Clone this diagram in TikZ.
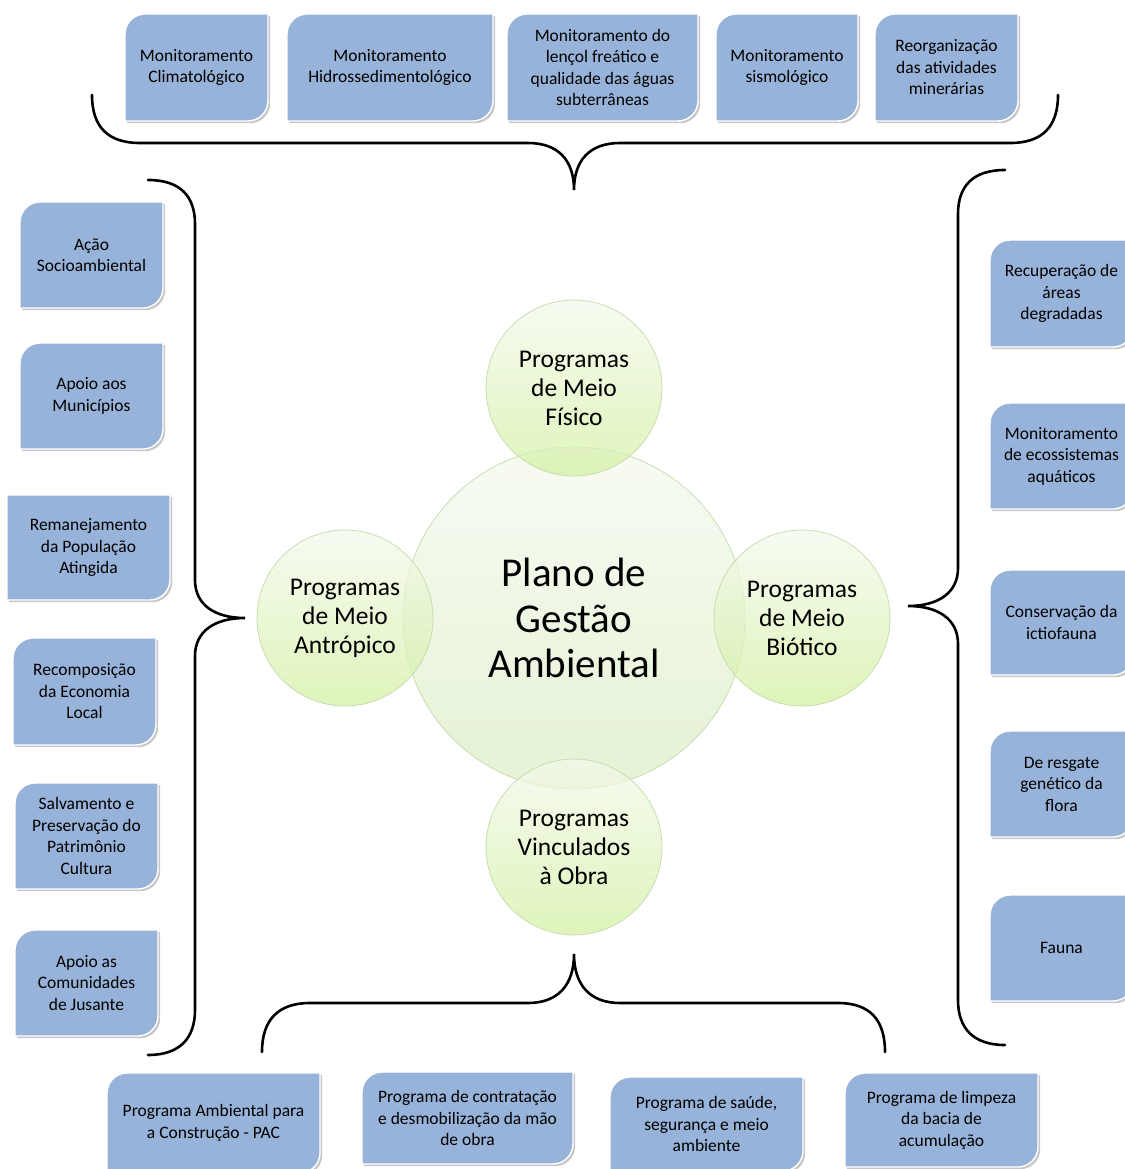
\documentclass[tikz,border=0pt]{standalone}
\usepackage{fontspec}
\setmainfont{Carlito}
\usepackage{xcolor}
\usepackage{tikz}
\usetikzlibrary{calc,backgrounds}

\definecolor{boxblue}{RGB}{152,179,217}
\definecolor{ringedge}{RGB}{196,218,170}
\definecolor{greentop}{RGB}{243,249,236}
\definecolor{greenbot}{RGB}{210,240,160}
\definecolor{hubtop}{RGB}{244,249,238}
\definecolor{hubbot}{RGB}{218,237,196}

% box outline: rounded top-left and bottom-right corners
\newcommand{\progpath}[1]{(#1.south west) -- ($(#1.north west)+(0,20)$)
  .. controls ($(#1.north west)+(0,9)$) and ($(#1.north west)+(9,0)$) .. ($(#1.north west)+(20,0)$)
  -- (#1.north east) -- ($(#1.south east)-(0,20)$)
  .. controls ($(#1.south east)-(0,9)$) and ($(#1.south east)-(9,0)$) .. ($(#1.south east)-(20,0)$) -- cycle}
% same, bottom-right corner only
\newcommand{\progpathsq}[1]{(#1.south west) -- (#1.north west)
  -- (#1.north east) -- ($(#1.south east)-(0,20)$)
  .. controls ($(#1.south east)-(0,9)$) and ($(#1.south east)-(9,0)$) .. ($(#1.south east)-(20,0)$) -- cycle}

\begin{document}
\begin{tikzpicture}[x=1pt, y=-1pt,
  prog/.style={inner sep=2pt, outer sep=0pt, align=center, text=black, font=\fontsize{17.5}{21.5}\selectfont},
  hub/.style={circle, outer sep=0pt, inner sep=0pt, minimum size=176pt, draw=ringedge, line width=0.8pt,
    top color=greentop, bottom color=greenbot, fill opacity=0.72, draw opacity=0.9, text opacity=1,
    align=center, font=\fontsize{25.5}{29}\selectfont},
  brace/.style={line width=2.6pt, line cap=round}
]
\useasboundingbox (0,0) rectangle (1124,1169);

% center and the four groups
\node[hub, minimum size=342pt, top color=hubtop, bottom color=hubbot, font=\fontsize{41}{45.5}\selectfont] (plano) at (574,618) {Plano de\\Gestão\\Ambiental};
\node[hub] (fisico) at (574,388) {Programas\\de Meio\\Físico};
\node[hub] (antropico) at (345,618) {Programas\\de Meio\\Antrópico};
\node[hub] (biotico) at (802,618) {Programas\\de Meio\\Biótico};
\node[hub] (obra) at (574,847) {Programas\\Vinculados\\à Obra};

% meio fisico
\node[prog, minimum width=143pt, minimum height=107pt] (b1) at (196.5,67.5) {Monitoramento\\Climatológico};
\node[prog, minimum width=206pt, minimum height=107pt] (b2) at (390,67.5) {Monitoramento\\Hidrossedimentológico};
\node[prog, minimum width=191pt, minimum height=107pt] (b3) at (602.5,67.5) {Monitoramento do\\lençol freático e\\qualidade das águas\\subterrâneas};
\node[prog, minimum width=142pt, minimum height=107pt] (b4) at (787,67.5) {Monitoramento\\sismológico};
\node[prog, minimum width=143pt, minimum height=107pt] (b5) at (946.5,67.5) {Reorganização\\das atividades\\minerárias};

% meio antropico
\node[prog, minimum width=143pt, minimum height=106pt] (l1) at (91.5,255) {Ação\\Socioambiental};
\node[prog, minimum width=143pt, minimum height=106pt] (l2) at (91.5,396) {Apoio aos\\Municípios};
\node[prog, minimum width=163pt, minimum height=105pt] (l3) at (88.5,547.5) {Remanejamento\\da População\\Atingida};
\node[prog, minimum width=143pt, minimum height=107pt] (l4) at (84.5,691.5) {Recomposição\\da Economia\\Local};
\node[prog, minimum width=143pt, minimum height=106pt] (l5) at (86.5,836) {Salvamento e\\Preservação do\\Patrimônio\\Cultura};
\node[prog, minimum width=143pt, minimum height=106pt] (l6) at (86.5,983) {Apoio as\\Comunidades\\de Jusante};

% meio biotico
\node[prog, minimum width=143pt, minimum height=107pt] (r1) at (1061.5,293.5) {Recuperação de\\áreas\\degradadas};
\node[prog, minimum width=143pt, minimum height=106pt] (r2) at (1061.5,456) {Monitoramento\\de ecossistemas\\aquáticos};
\node[prog, minimum width=143pt, minimum height=105pt] (r3) at (1061.5,622.5) {Conservação da\\ictiofauna};
\node[prog, minimum width=143pt, minimum height=106pt] (r4) at (1061.5,784) {De resgate\\genético da\\flora};
\node[prog, minimum width=143pt, minimum height=106pt] (r5) at (1061.5,948) {Fauna};

% vinculados a obra
\node[prog, minimum width=213pt, minimum height=100pt] (d1) at (213.5,1123) {Programa Ambiental para\\a Construção - PAC};
\node[prog, minimum width=211pt, minimum height=92pt] (d2) at (467.5,1118) {Programa de contratação\\e desmobilização da mão\\de obra};
\node[prog, minimum width=193pt, minimum height=94pt] (d3) at (706.5,1124) {Programa de saúde,\\segurança e meio\\ambiente};
\node[prog, minimum width=193pt, minimum height=94pt] (d4) at (941.5,1120) {Programa de limpeza\\da bacia de\\acumulação};

\begin{scope}[on background layer]
\foreach \n in {b1,b2,b3,b4,b5,l1,l2,l4,l5,l6,r1,r2,r3,r4,r5,d1,d2,d3,d4} {
  \begin{scope}[transform canvas={shift={(2.2,2.2)}}]
    \fill[black!22] \progpath{\n};
  \end{scope}
  \filldraw[fill=boxblue, draw=white, line width=1.4pt] \progpath{\n};
}
\begin{scope}[transform canvas={shift={(2.2,2.2)}}]
  \fill[black!22] \progpathsq{l3};
\end{scope}
\filldraw[fill=boxblue, draw=white, line width=1.4pt] \progpathsq{l3};
\end{scope}

% braces
\draw[brace] (92,95) .. controls (92,127) and (108,143) .. (140,143) -- (528,143)
  .. controls (558,143) and (574,160) .. (574,190) .. controls (574,160) and (590,143) .. (620,143)
  -- (1010,143) .. controls (1042,143) and (1058,127) .. (1058,95);
\draw[brace] (148,180) .. controls (180,180) and (195,196) .. (195,224) -- (195,580)
  .. controls (195,605) and (215,618) .. (245,618) .. controls (215,618) and (195,631) .. (195,656)
  -- (195,1010) .. controls (195,1038) and (180,1055) .. (148,1055);
\draw[brace] (1005,170) .. controls (973,170) and (958,186) .. (958,214) -- (958,568)
  .. controls (958,593) and (938,606) .. (908,606) .. controls (938,606) and (958,619) .. (958,644)
  -- (958,1000) .. controls (958,1028) and (973,1045) .. (1005,1045);
\draw[brace] (262,1052) .. controls (262,1020) and (278,1003) .. (310,1003) -- (528,1003)
  .. controls (558,1003) and (574,985) .. (574,954) .. controls (574,985) and (590,1003) .. (620,1003)
  -- (838,1003) .. controls (870,1003) and (885,1020) .. (885,1052);

\end{tikzpicture}
\end{document}
